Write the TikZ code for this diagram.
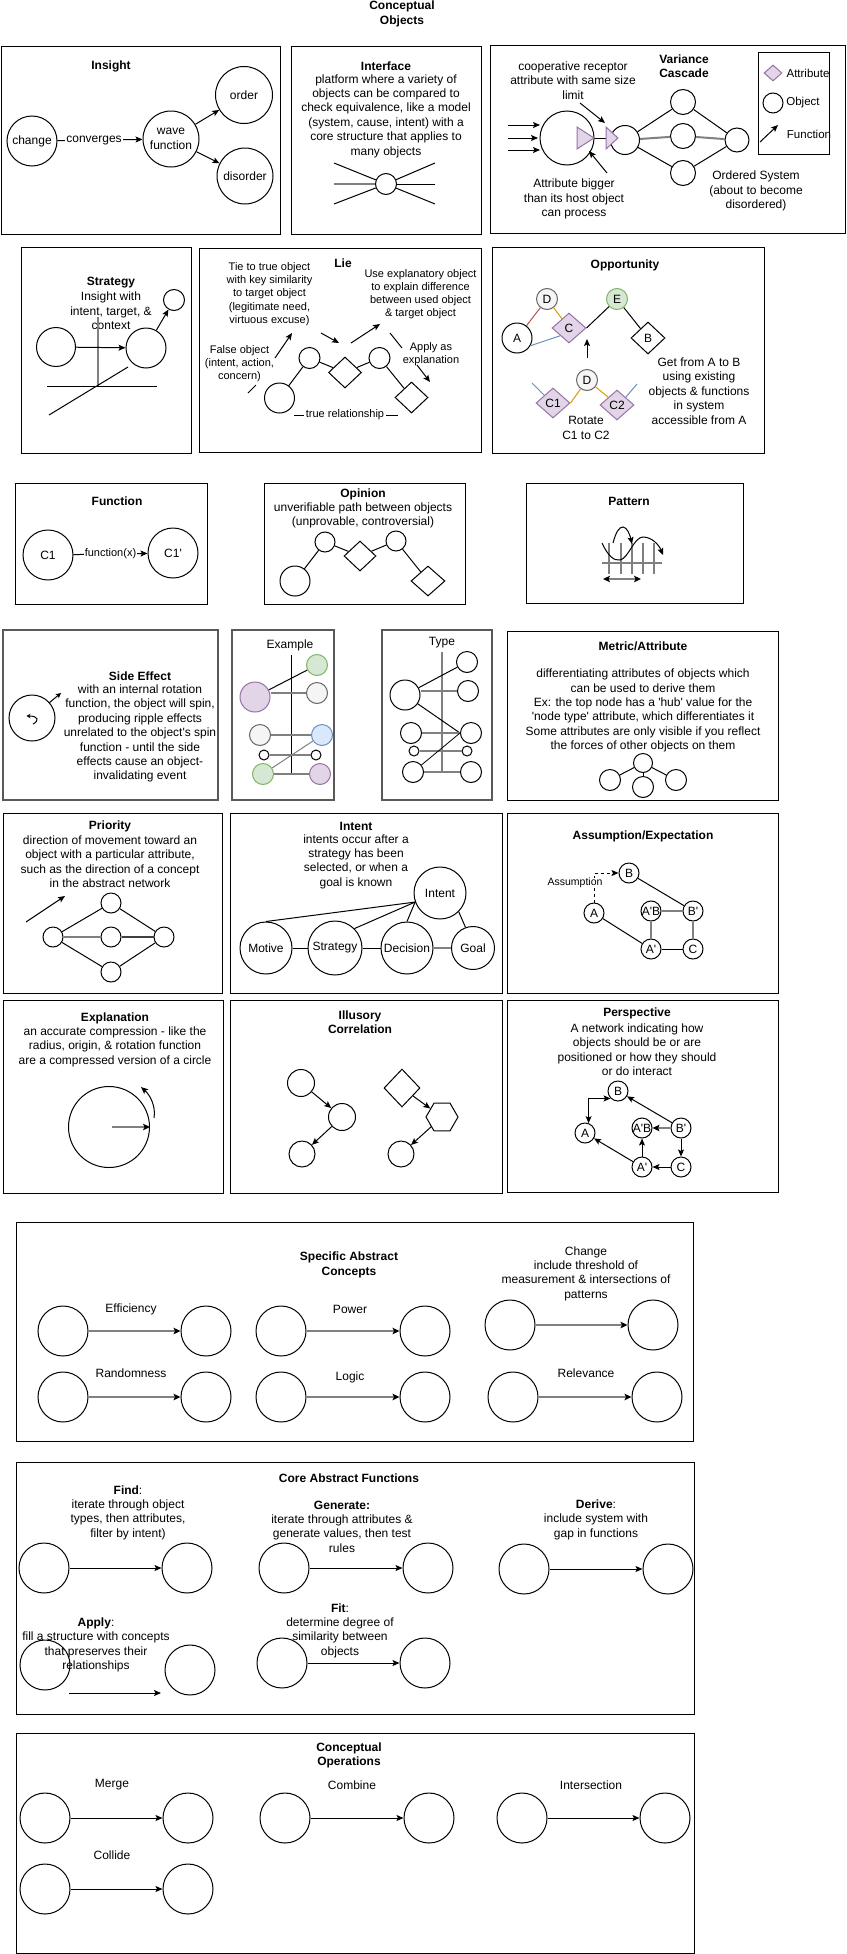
\documentclass[tikz,border=0pt]{standalone}
\usepackage{fontspec}
\setmainfont{Liberation Sans}
\usetikzlibrary{arrows.meta,shapes.geometric}
\definecolor{purF}{HTML}{E1D5E7}
\definecolor{purD}{HTML}{9673A6}
\definecolor{grnF}{HTML}{D5E8D4}
\definecolor{grnD}{HTML}{82B366}
\definecolor{gryF}{HTML}{F5F5F5}
\definecolor{gryD}{HTML}{666666}
\definecolor{bluF}{HTML}{DAE8FC}
\definecolor{bluD}{HTML}{6C8EBF}
\definecolor{redD}{HTML}{B85450}
\definecolor{orgD}{HTML}{D79B00}
\definecolor{lnG}{HTML}{808080}
\newcommand\fsA{\fontsize{12}{14.4}\selectfont}
\newcommand\fsB{\fontsize{11}{13.2}\selectfont}
\newcommand\fsC{\fontsize{10.5}{12.6}\selectfont}
\newcommand\fsL{\fontsize{11.5}{13.8}\selectfont}
\newcommand\qt{\textquotesingle}
\tikzset{
 frame/.style={draw=black, line width=1pt},
 gframe/.style={draw=black!65, line width=1.5pt},
 obj/.style={circle, draw=black, line width=1pt, fill=white, inner sep=0pt, align=center, font=\fsA},
 dia/.style={diamond, draw=black, line width=1pt, fill=white, inner sep=0pt, font=\fsA},
 txt/.style={align=center, inner sep=0pt, font=\fsA},
 txtS/.style={align=center, inner sep=0pt, font=\fsB},
 ttl/.style={align=center, inner sep=0pt, font=\fsA\bfseries},
 ln/.style={line width=1pt},
 gln/.style={line width=2pt, draw=lnG},
 arr/.style={line width=1pt, -{Stealth[length=7pt,width=6pt,inset=1.5pt]}},
 sarr/.style={line width=1pt, -{Stealth[length=5pt,width=5pt,inset=1pt]}},
 darr/.style={line width=1pt, {Stealth[length=7pt,width=6pt,inset=1.5pt]}-{Stealth[length=7pt,width=6pt,inset=1.5pt]}},
 garr/.style={line width=2pt, draw=lnG, -{Stealth[length=7pt,width=6.5pt,inset=1.5pt,color=black]}},
 gdarr/.style={line width=2pt, draw=lnG, {Stealth[length=7pt,width=6.5pt,inset=1.5pt,color=black]}-{Stealth[length=7pt,width=6.5pt,inset=1.5pt,color=black]}},
 lbl/.style={fill=white, inner sep=1pt, font=\fsA},
 purp/.style={fill=purF, draw=purD},
 grn/.style={fill=grnF, draw=grnD},
 gry/.style={fill=gryF, draw=gryD},
 blu/.style={fill=bluF, draw=bluD},
}
\begin{document}
\begin{tikzpicture}[x=1pt,y=-1pt]
\fill[white] (0,0) rectangle (846,1954);
\useasboundingbox (0,0) rectangle (846,1954);

% ---------- title
\node[ttl] (tTitle) at (402,14) {Conceptual\\Objects};

% ---------- Insight
\draw[frame] (1.5,46) rectangle (280,234);
\node[ttl] (tIns) at (111,66) {Insight};
\node[obj, minimum size=50pt] (chg) at (32,141) {change};
\node[obj, minimum size=56pt] (wav) at (171,139) {wave\\function};
\node[obj, minimum size=57pt] (ord) at (244,95) {order};
\node[obj, minimum size=56pt] (dis) at (245,176) {disorder};
\draw[arr] (chg) -- node[lbl, pos=0.43] (lConv) {converges} (wav);
\draw[arr] (wav) -- (ord);
\draw[arr] (wav) -- (dis);

% ---------- Interface
\draw[frame] (291,46) rectangle (481,234);
\node[ttl] (tIfc) at (386,66) {Interface};
\node[txt] (dIfc) at (386,116) {platform where a variety of\\objects can be compared to\\check equivalence, like a model\\(system, cause, intent) with a\\core structure that applies to\\many objects};
\node[obj, minimum size=21pt] (ifc) at (386,184) {};
\coordinate (ifL1) at (334,163); \coordinate (ifL2) at (334,184); \coordinate (ifL3) at (334,204);
\coordinate (ifR1) at (435,163); \coordinate (ifR2) at (435,184); \coordinate (ifR3) at (435,204);
\draw[ln] (ifL1) -- (ifc); \draw[gln] (ifL2) -- (ifc); \draw[ln] (ifL3) -- (ifc);
\draw[ln] (ifR1) -- (ifc); \draw[ln] (ifR2) -- (ifc); \draw[ln] (ifR3) -- (ifc);

% ---------- Variance Cascade
\draw[frame] (490,45) rectangle (845,233);
\node[ttl] (tVar) at (684,66) {Variance\\Cascade};
\node[txt] (dCoop) at (573,80.5) {cooperative receptor\\attribute with same size\\limit};
\node[txt] (dBig) at (574,199) {Attribute bigger\\than its host object\\can process};
\node[txt] (dOrd) at (756,191) {Ordered System\\(about to become\\disordered)};
\coordinate (va1) at (508,125); \coordinate (vb1) at (540,125);
\coordinate (va2) at (508,138); \coordinate (vb2) at (538,138);
\coordinate (va3) at (508,150); \coordinate (vb3) at (540,150);
\draw[arr] (va1) -- (vb1); \draw[arr] (va2) -- (vb2); \draw[arr] (va3) -- (vb3);
\node[obj, minimum size=54pt] (vbig) at (567,138) {};
\node[obj, minimum size=29pt] (vc2) at (625,140) {};
\node[obj, minimum size=25pt] (vtop) at (683,102) {};
\node[obj, minimum size=25pt] (vmid) at (683,136) {};
\node[obj, minimum size=25pt] (vbot) at (683,173) {};
\node[obj, minimum size=24pt] (vfin) at (737,140) {};
\draw[ln] (vc2) -- (vtop); \draw[gln] (vc2) -- (vmid); \draw[ln] (vc2) -- (vbot);
\draw[ln] (vtop) -- (vfin); \draw[gln] (vmid) -- (vfin); \draw[ln] (vbot) -- (vfin);
\coordinate (tri1tip) at (594,138); \coordinate (tri2base) at (606,138);
\draw[ln] (tri1tip) -- (tri2base);
\filldraw[purp, line width=1pt] (577,127) -- (tri1tip) -- (577,149) -- cycle;
\filldraw[purp, line width=1pt] (606,127) -- (618,138) -- (606,149) -- cycle;
\coordinate (pc1) at (580,103); \coordinate (pc2) at (605,123);
\draw[arr] (pc1) -- (pc2);
\coordinate (pb1) at (607,173); \coordinate (pb2) at (589,151);
\draw[arr] (pb1) -- (pb2);
% legend
\draw[frame] (758,52) rectangle (829,154);
\node[dia, purp, minimum width=18pt, minimum height=16pt] (legd) at (773,73) {};
\node[obj, minimum size=20pt] (legc) at (773,103) {};
\coordinate (lga) at (760,142); \coordinate (lgb) at (778,125);
\draw[arr] (lga) -- (lgb);
\node[txt, font=\fsL] (lgAt) at (808,73) {Attribute};
\node[txt, font=\fsL] (lgOb) at (803,103) {Object};
\node[txt, font=\fsL] (lgFn) at (809,134) {Function};

% ---------- Strategy
\draw[frame] (21,247) rectangle (191,453);
\node[ttl] (tStr) at (111,283) {Strategy};
\node[txt] (dStr) at (111,311) {Insight with\\intent, target, \&\\context};
\coordinate (sg1) at (98,317); \coordinate (sg2) at (98,386);
\draw[gln] (sg1) -- (sg2);
\coordinate (sh1) at (47,386); \coordinate (sh2) at (157,386);
\draw[ln] (sh1) -- (sh2);
\coordinate (sd1) at (49,415); \coordinate (sd2) at (128,367);
\draw[ln] (sd1) -- (sd2);
\node[obj, minimum size=39pt] (sL) at (56,347) {};
\node[obj, minimum size=40pt] (sR) at (146,348) {};
\node[obj, minimum size=21pt] (sS) at (174,300) {};
\draw[arr] (sL) -- (sR);
\draw[arr] (sR) -- (sS);

% ---------- Lie
\draw[frame] (199,248) rectangle (481,452);
\node[ttl] (tLie) at (343,263) {Lie};
\node[txtS] (dTie) at (269.5,294) {Tie to true object\\with key similarity\\to target object\\(legitimate need,\\virtuous excuse)};
\node[txtS] (dUse) at (420.5,294) {Use explanatory object\\to explain difference\\between used object\\\& target object};
\node[txtS] (dFalse) at (239.5,363.5) {False object\\(intent, action,\\concern)};
\node[txtS] (dApply) at (431,354.5) {Apply as\\explanation};
\coordinate (lp1) at (248,393); \coordinate (lp2) at (256,385); \draw[ln] (lp1) -- (lp2);
\coordinate (lp3) at (275,358); \coordinate (lp4) at (292,333); \draw[arr] (lp3) -- (lp4);
\coordinate (lp5) at (321,333); \coordinate (lp6) at (339,343); \draw[arr] (lp5) -- (lp6);
\coordinate (lp7) at (351,343); \coordinate (lp8) at (380,324); \draw[arr] (lp7) -- (lp8);
\coordinate (lp9) at (390,333); \coordinate (lp10) at (402,348); \draw[ln] (lp9) -- (lp10);
\coordinate (lp11) at (417,365); \coordinate (lp12) at (430,382); \draw[arr] (lp11) -- (lp12);
\node[obj, minimum size=30pt] (lc1) at (279.5,398) {};
\node[obj, minimum size=21pt] (lc2) at (309.5,358) {};
\node[dia, minimum width=33pt, minimum height=31pt] (ld1) at (345,372.5) {};
\node[obj, minimum size=21pt] (lc3) at (379.5,358) {};
\node[dia, minimum width=33pt, minimum height=31pt] (ld2) at (411.5,397.5) {};
\draw[ln] (lc1) -- (lc2); \draw[ln] (lc2) -- (ld1); \draw[ln] (ld1) -- (lc3); \draw[ln] (lc3) -- (ld2);
\coordinate (trA) at (294,415); \coordinate (trB) at (398,415);
\draw[ln] (trA) -- (trB);
\node[txtS, fill=white, inner sep=1.5pt] (trl) at (345,415) {true relationship};

% ---------- Opportunity
\draw[frame] (492,247) rectangle (764,453);
\node[ttl] (tOpp) at (625,265) {Opportunity};
\node[obj, gry, minimum size=21pt] (oD) at (547,299) {D};
\node[obj, grn, minimum size=21pt] (oE) at (617,299) {E};
\node[obj, minimum size=30pt] (oA) at (517,338) {A};
\node[dia, purp, minimum width=34pt, minimum height=30pt] (oC) at (569,328) {C};
\node[dia, minimum width=34pt, minimum height=32pt] (oB) at (648,338) {B};
\draw[ln, redD] (oA) -- (oD);
\draw[ln, orgD] (oD) -- (oC);
\draw[ln, bluD] (oA.-30) -- (oC.south west);
\draw[ln] (oC.east) -- (oE);
\draw[ln] (oE) -- (oB);
\coordinate (oup1) at (587,358); \coordinate (oup2) at (587,339);
\draw[arr] (oup1) -- (oup2);
\node[obj, gry, minimum size=21pt] (oD2) at (587,380) {D};
\node[dia, purp, minimum width=34pt, minimum height=30pt] (oC1) at (553,403) {C1};
\node[dia, purp, minimum width=34pt, minimum height=30pt] (oC2) at (617,405) {C2};
\coordinate (obl) at (532,383); \coordinate (obr) at (637,384);
\draw[ln, bluD] (obl) -- (oC1.north west);
\draw[ln, orgD] (oC1.east) -- (oD2);
\draw[ln, orgD] (oD2) -- (oC2.north west);
\draw[ln, bluD] (oC2.north east) -- (obr);
\node[txt] (dRot) at (586,428) {Rotate\\C1 to C2};
\node[txt] (dGet) at (699,391) {Get from A to B\\using existing\\objects \& functions\\in system\\accessible from A};

% ---------- Function
\draw[frame] (15,483) rectangle (207,604);
\node[ttl] (tFun) at (117,501) {Function};
\node[obj, minimum size=50pt] (fC1) at (48,555) {C1};
\node[obj, minimum size=50pt] (fC2) at (173,553) {C1\qt};
\draw[arr] (fC1) -- node[lbl, font=\fsB, inner sep=0.5pt] (lFx) {function(x)} (fC2);

% ---------- Opinion
\draw[frame] (264,483) rectangle (465,604);
\node[ttl] (tOpi) at (363,494) {Opinion};
\node[txt] (dOpi) at (363,515.5) {unverifiable path between objects\\(unprovable, controversial)};
\node[obj, minimum size=30pt] (opc1) at (295,581) {};
\node[obj, minimum size=20pt] (opc2) at (325,542) {};
\node[dia, minimum width=32pt, minimum height=30pt] (opd1) at (360,556) {};
\node[obj, minimum size=20pt] (opc3) at (396,541) {};
\node[dia, minimum width=34pt, minimum height=30pt] (opd2) at (428,581) {};
\draw[ln] (opc1) -- (opc2); \draw[ln] (opc2) -- (opd1); \draw[ln] (opd1) -- (opc3); \draw[ln] (opc3) -- (opd2);

% ---------- Pattern
\draw[frame] (526,483) rectangle (743,603);
\node[ttl] (tPat) at (629,501) {Pattern};
\coordinate (ph1) at (602,563); \coordinate (ph2) at (662,563);
\draw[gln] (ph1) -- (ph2);
\foreach \xx in {609,621,632,643,654} { \draw[gln] (\xx,543) -- (\xx,574); }
\coordinate (pw0) at (602,543); \coordinate (pw1) at (620,560); \coordinate (pw2) at (643,537); \coordinate (pw3) at (663,555);
\draw[arr] (pw0) .. controls (608,556) and (614,561) .. (pw1) .. controls (628,559) and (634,537) .. (pw2) .. controls (652,537) and (659,545) .. (pw3);
\coordinate (pa0) at (613,543); \coordinate (pa1) at (623,527); \coordinate (pa2) at (632,544);
\draw[arr] (pa0) .. controls (616,532) and (619,527) .. (pa1) .. controls (627,527) and (630,535) .. (pa2);
\coordinate (pd1) at (603,579); \coordinate (pd2) at (641,579);
\draw[gdarr] (pd1) -- (pd2);

% ---------- Side Effect
\draw[gframe] (3,630) rectangle (218,800);
\node[ttl] (tSide) at (140,676) {Side Effect};
\node[txt] (dSide) at (140,733.5) {with an internal rotation\\function, the object will spin,\\producing ripple effects\\unrelated to the object\qt s spin\\function - until the side\\effects cause an object-\\invalidating event};
\node[obj, minimum size=46pt] (seC) at (32,718) {};
\coordinate (sea1) at (49,703); \coordinate (sea2) at (61,693);
\draw[sarr] (sea1) -- (sea2);
\coordinate (seg1) at (33,724); \coordinate (seg2) at (26.5,716);
\draw[line width=1pt, -{Stealth[length=4pt,width=4.5pt]}] (seg1) .. controls (39,721) and (39,716) .. (seg2);

% ---------- Example
\draw[gframe] (232,630) rectangle (334,800);
\node[txt] (tEx) at (290,645) {Example};
\coordinate (exT) at (291,655); \coordinate (exBt) at (291,775);
\draw[ln] (exT) -- (exBt);
\node[obj, grn, minimum size=21pt] (exG1) at (317,665) {};
\node[obj, purp, minimum size=30pt] (exP1) at (255,697) {};
\node[obj, gry, minimum size=21pt] (exW1) at (317,693) {};
\node[obj, gry, minimum size=21pt] (exW2) at (260,735) {};
\node[obj, blu, minimum size=21pt] (exB1) at (322,735) {};
\node[obj, minimum size=10pt] (exs1) at (264,755) {};
\node[obj, minimum size=10pt] (exs2) at (316,755) {};
\node[obj, grn, minimum size=21pt] (exG2) at (263,774) {};
\node[obj, purp, minimum size=21pt] (exP2) at (320,774) {};
\draw[ln] (exP1) -- (exG1);
\draw[gln] (exP1.east |- exW1) -- (exW1);
\draw[gln] (exW2) -- (exB1);
\draw[gln] (exs1) -- (exs2);
\draw[gln] (exG2) -- (exP2);
\draw[line width=1pt, lnG] (exG2) -- (exB1);

% ---------- Type
\draw[gframe] (382,630) rectangle (492,800);
\node[txt] (tTy) at (442,643) {Type};
\coordinate (tyT) at (442,652); \coordinate (tyBt) at (442,772);
\draw[gln] (tyT) -- (tyBt);
\node[obj, minimum size=21pt] (tyR1) at (467,662) {};
\node[obj, minimum size=30pt] (tyBig) at (405,695) {};
\node[obj, minimum size=21pt] (tyR2) at (468,691) {};
\node[obj, minimum size=21pt] (tyL3) at (411,733) {};
\node[obj, minimum size=21pt] (tyR3) at (471,733) {};
\node[obj, minimum size=10pt] (tys1) at (414,751) {};
\node[obj, minimum size=10pt] (tys2) at (467,751) {};
\node[obj, minimum size=21pt] (tyL4) at (413,772) {};
\node[obj, minimum size=21pt] (tyR4) at (471,772) {};
\draw[ln] (tyBig) -- (tyR1);
\draw[gln] (tyBig.east |- tyR2) -- (tyR2);
\draw[ln] (tyBig) -- (tyR3.west);
\draw[gln] (tyL3) -- (tyR3);
\draw[gln] (tys1) -- (tys2);
\draw[gln] (tyL4) -- (tyR4);
\draw[line width=0.8pt] (tyL4) -- (tyR3.west);

% ---------- Metric/Attribute
\draw[frame] (507,631) rectangle (778,800);
\node[ttl] (tMet) at (643,646) {Metric/Attribute};
\node[txt] (dMet) at (643,710.5) {differentiating attributes of objects which\\can be used to derive them\\Ex: the top node has a \qt hub\qt{} value for the\\\qt node type\qt{} attribute, which differentiates it\\Some attributes are only visible if you reflect\\the forces of other objects on them};
\node[obj, minimum size=19pt] (mT) at (643,763) {};
\node[obj, minimum size=21pt] (mL) at (610,780) {};
\node[obj, minimum size=21pt] (mM) at (643,787) {};
\node[obj, minimum size=21pt] (mR) at (676,780) {};
\draw[ln] (mT) -- (mL); \draw[ln] (mT) -- (mM); \draw[ln] (mT) -- (mR);

% ---------- Priority
\draw[frame] (3,813) rectangle (222,993);
\node[ttl] (tPri) at (110,826) {Priority};
\node[txt] (dPri) at (110,861.5) {direction of movement toward an\\object with a particular attribute,\\such as the direction of a concept\\in the abstract network};
\coordinate (pra1) at (26,922); \coordinate (pra2) at (65,896);
\draw[arr] (pra1) -- (pra2);
\node[obj, minimum size=20pt] (prL) at (53,937) {};
\node[obj, minimum size=20pt] (prT) at (111,903) {};
\node[obj, minimum size=20pt] (prM) at (111,937) {};
\node[obj, minimum size=20pt] (prB) at (111,972) {};
\node[obj, minimum size=20pt] (prR) at (164,937) {};
\draw[ln] (prL) -- (prT); \draw[gln] (prL) -- (prM); \draw[ln] (prL) -- (prB);
\draw[ln] (prT) -- (prR); \draw[line width=1.5pt, black!75] (prM) -- (prR); \draw[ln] (prB) -- (prR);

% ---------- Intent
\draw[frame] (230,813) rectangle (502,993);
\node[ttl] (tInt) at (356,826) {Intent};
\node[txt] (dInt) at (356,861.5) {intents occur after a\\strategy has been\\selected, or when a\\goal is known};
\node[obj, minimum size=52pt] (inI) at (440,893) {Intent};
\node[obj, minimum size=52pt] (inM) at (266,948) {Motive};
\node[obj, minimum size=54pt] (inS) at (335,948) {Strategy};
\node[obj, minimum size=52pt] (inD) at (407,948) {Decision};
\node[obj, minimum size=43pt] (inG) at (473,948) {Goal};
\draw[ln] (inM) -- (inS); \draw[ln] (inS) -- (inD); \draw[gln] (inD) -- (inG);
\draw[ln] (inI.200) -- (inM.north);
\draw[ln] (inI.200) -- (inS.north east);
\draw[ln] (inI.200) -- (inD.north);
\draw[ln] (inI.-45) -- (inG.110);

% ---------- Assumption/Expectation
\draw[frame] (507,813) rectangle (778,993);
\node[ttl] (tAss) at (643,836) {Assumption/Expectation};
\node[obj, minimum size=20pt] (asB) at (629,873) {B};
\node[obj, minimum size=20pt] (asA) at (594,913) {A};
\node[obj, minimum size=20pt] (asAB) at (651,911) {A\qt B};
\node[obj, minimum size=20pt] (asBp) at (693,911) {B\qt};
\node[obj, minimum size=20pt] (asAp) at (651,949) {A\qt};
\node[obj, minimum size=20pt] (asC) at (693,949) {C};
\draw[ln] (asB) -- (asBp); \draw[gln] (asAB) -- (asBp); \draw[gln] (asAB) -- (asAp);
\draw[gln] (asBp) -- (asC); \draw[ln] (asA) -- (asAp); \draw[ln] (asAp) -- (asC);
\draw[arr, dashed] (asA.north) |- (asB.west);
\node[lbl, font=\fsC, inner sep=0.5pt] (lAss) at (575,883) {Assumption};

% ---------- Explanation
\draw[frame] (3,1000) rectangle (223,1193);
\node[ttl] (tExp) at (115,1018) {Explanation};
\node[txt] (dExp) at (115,1046.5) {an accurate compression - like the\\radius, origin, \& rotation function\\are a compressed version of a circle};
\node[obj, minimum size=81pt] (exC) at (109,1127) {};
\coordinate (exO) at (112,1127);
\draw[garr] (exO) -- (exC.east);
\coordinate (exq1) at (154,1118); \coordinate (exq2) at (141,1087);
\draw[arr] (exq1) .. controls (156,1106) and (150,1095) .. (exq2);

% ---------- Illusory Correlation
\draw[frame] (230,1000) rectangle (502,1193);
\node[ttl] (tIll) at (360,1022) {Illusory\\Correlation};
\node[obj, minimum size=27pt] (ic1) at (301,1083) {};
\node[obj, minimum size=27pt] (ic2) at (342,1117) {};
\node[obj, minimum size=26pt] (ic3) at (302,1154) {};
\node[dia, minimum width=36pt, minimum height=38pt] (idm) at (402,1088) {};
\node[regular polygon, regular polygon sides=6, draw, line width=1pt, fill=white, inner sep=0pt, minimum size=32pt] (ihx) at (442,1117) {};
\node[obj, minimum size=26pt] (ic4) at (401,1154) {};
\draw[arr] (ic1) -- (ic2); \draw[arr] (ic2) -- (ic3);
\draw[arr] (idm) -- (ihx); \draw[arr] (ihx) -- (ic4);

% ---------- Perspective
\draw[frame] (507,1000) rectangle (778,1192);
\node[ttl] (tPer) at (637,1013) {Perspective};
\node[txt] (dPer) at (637,1049.5) {A network indicating how\\objects should be or are\\positioned or how they should\\or do interact};
\node[obj, minimum size=20pt] (peB) at (618,1091) {B};
\node[obj, minimum size=20pt] (peA) at (585,1133) {A};
\node[obj, minimum size=20pt] (peAB) at (642,1128) {A\qt B};
\node[obj, minimum size=20pt] (peBp) at (681,1128) {B\qt};
\node[obj, minimum size=20pt] (peAp) at (642,1167) {A\qt};
\node[obj, minimum size=20pt] (peC) at (681,1167) {C};
\draw[darr] (peA.70) |- (peB.south west);
\draw[arr] (peBp) -- (peB);
\draw[garr] (peBp) -- (peAB);
\draw[arr] (peBp) -- (peC);
\draw[arr] (peC) -- (peAp);
\draw[arr] (peAp) -- (peAB);
\draw[arr] (peAp) -- (peA);

% ---------- Specific Abstract Concepts
\draw[frame] (16,1222) rectangle (693,1441);
\node[ttl] (tSpec) at (349,1265) {Specific Abstract\\Concepts};
\node[obj, minimum size=50pt] (spE1) at (63,1331) {};
\node[obj, minimum size=50pt] (spE2) at (206,1331) {};
\node[txt] (lEff) at (131,1309) {Efficiency};
\draw[garr] (spE1) -- (spE2);
\node[obj, minimum size=50pt] (spP1) at (281,1331) {};
\node[obj, minimum size=50pt] (spP2) at (425,1331) {};
\node[txt] (lPow) at (350,1309) {Power};
\draw[garr] (spP1) -- (spP2);
\node[obj, minimum size=50pt] (spC1) at (510,1325) {};
\node[obj, minimum size=50pt] (spC2) at (653,1325) {};
\node[txt] (lChg) at (586,1273.5) {Change\\include threshold of\\measurement \& intersections of\\patterns};
\draw[garr] (spC1) -- (spC2);
\node[obj, minimum size=50pt] (spR1) at (63,1397) {};
\node[obj, minimum size=50pt] (spR2) at (206,1397) {};
\node[txt] (lRan) at (131,1373) {Randomness};
\draw[garr] (spR1) -- (spR2);
\node[obj, minimum size=50pt] (spL1) at (281,1397) {};
\node[obj, minimum size=50pt] (spL2) at (425,1397) {};
\node[txt] (lLog) at (350,1377) {Logic};
\draw[garr] (spL1) -- (spL2);
\node[obj, minimum size=50pt] (spV1) at (513,1397) {};
\node[obj, minimum size=50pt] (spV2) at (657,1397) {};
\node[txt] (lRel) at (586,1373) {Relevance};
\draw[garr] (spV1) -- (spV2);

% ---------- Core Abstract Functions
\draw[frame] (16,1462) rectangle (694,1714);
\node[ttl] (tCore) at (349,1478) {Core Abstract Functions};
\node[obj, minimum size=50pt] (cfA1) at (44,1568) {};
\node[obj, minimum size=50pt] (cfA2) at (187,1568) {};
\draw[arr] (cfA1) -- (cfA2);
\node[txt] (dFind) at (128,1512.5) {\textbf{Find}:\\iterate through object\\types, then attributes,\\filter by intent)};
\node[obj, minimum size=50pt] (cfG1) at (284,1568) {};
\node[obj, minimum size=50pt] (cfG2) at (428,1568) {};
\draw[arr] (cfG1) -- (cfG2);
\node[txt] (dGen) at (342,1526.5) {\textbf{Generate:}\\iterate through attributes \&\\generate values, then test\\rules};
\node[obj, minimum size=50pt] (cfD1) at (524,1569) {};
\node[obj, minimum size=50pt] (cfD2) at (668,1569) {};
\draw[arr] (cfD1) -- (cfD2);
\node[txt] (dDer) at (596,1519.5) {\textbf{Derive}:\\include system with\\gap in functions};
\node[obj, minimum size=50pt] (cfP1) at (45,1665) {};
\node[obj, minimum size=50pt] (cfP2) at (190,1670) {};
\coordinate (cfPa) at (69,1693); \coordinate (cfPb) at (161,1693);
\draw[arr] (cfPa) -- (cfPb);
\node[txt] (dApp) at (96,1645) {\textbf{Apply}:\\fill a structure with concepts\\that preserves their\\relationships};
\node[obj, minimum size=50pt] (cfF1) at (282,1663) {};
\node[obj, minimum size=50pt] (cfF2) at (425,1663) {};
\draw[arr] (cfF1) -- (cfF2);
\node[txt] (dFit) at (340,1630.5) {\textbf{Fit}:\\determine degree of\\similarity between\\objects};

% ---------- Conceptual Operations
\draw[frame] (16,1733) rectangle (694,1953);
\node[ttl] (tOps) at (349,1755.5) {Conceptual\\Operations};
\node[txt] (lMer) at (112,1785) {Merge};
\node[obj, minimum size=50pt] (omA) at (45,1818) {};
\node[obj, minimum size=50pt] (omB) at (188,1818) {};
\draw[arr] (omA) -- (omB);
\node[txt] (lCom) at (352,1785) {Combine};
\node[obj, minimum size=50pt] (ocA) at (285,1818) {};
\node[obj, minimum size=50pt] (ocB) at (429,1818) {};
\draw[arr] (ocA) -- (ocB);
\node[txt] (lInt) at (591,1785) {Intersection};
\node[obj, minimum size=50pt] (oiA) at (522,1818) {};
\node[obj, minimum size=50pt] (oiB) at (665,1818) {};
\draw[arr] (oiA) -- (oiB);
\node[txt] (lCol) at (112,1855) {Collide};
\node[obj, minimum size=50pt] (olA) at (45,1889) {};
\node[obj, minimum size=50pt] (olB) at (188,1889) {};
\draw[arr] (olA) -- (olB);
\end{tikzpicture}
\end{document}
